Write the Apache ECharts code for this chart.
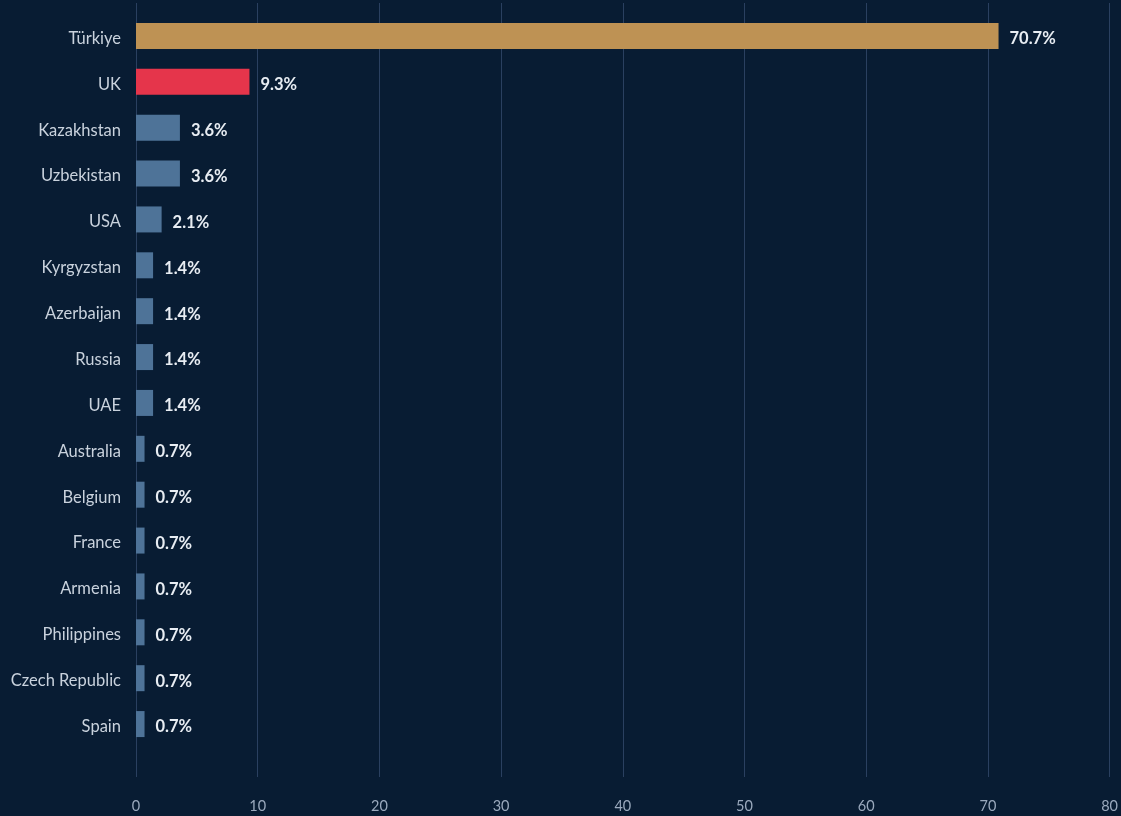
<!DOCTYPE html>
<html><head><meta charset="utf-8">
<script src="https://cdn.jsdelivr.net/npm/echarts@6/dist/echarts.min.js"></script>
<style>html,body{margin:0;padding:0;background:#081c33;}#c{width:1121px;height:816px;}</style>
</head><body><div id="c"></div>
<script>
const categories = ["Türkiye","UK","Kazakhstan","Uzbekistan","USA","Kyrgyzstan","Azerbaijan","Russia","UAE","Australia","Belgium","France","Armenia","Philippines","Czech Republic","Spain"];
const values = [70.7,9.3,3.6,3.6,2.1,1.4,1.4,1.4,1.4,0.7,0.7,0.7,0.7,0.7,0.7,0.7];
const xTicks = [0,10,20,30,40,50,60,70,80];
const barColors = {"Türkiye":"#be9254","UK":"#e5354b"};
const defaultColor = "#4e7398";
const FONT = "Lato, 'Noto Sans', sans-serif";
const chart = echarts.init(document.getElementById('c'), null, {renderer:'canvas'});
chart.setOption({
  backgroundColor:'#081c33',
  animation:false,
  grid:[
    {left:136, right:9, top:13, height:734, containLabel:false},
    {left:136, right:9, top:3, bottom:39, containLabel:false}
  ],
  xAxis:[
    {gridIndex:0, type:'value', min:xTicks[0], max:xTicks[xTicks.length-1], interval:10,
     axisLabel:{show:false}, axisLine:{show:false}, axisTick:{show:false}, splitLine:{show:false}},
    {gridIndex:1, type:'value', min:xTicks[0], max:xTicks[xTicks.length-1], interval:10,
     axisLabel:{show:true, color:'#9aa9bd', fontSize:14.5, fontFamily:FONT, margin:22},
     axisLine:{show:false}, axisTick:{show:false},
     splitLine:{show:true, lineStyle:{color:'#2a4060', width:1}}}
  ],
  yAxis:[
    {gridIndex:0, type:'category', data:categories, inverse:true,
     axisLabel:{fontFamily:FONT, margin:15, formatter:v=>'{a|'+v+'}',
       rich:{a:{color:'#c9d2dd', fontSize:16.5, fontFamily:FONT, padding:[5,0,0,0]}}},
     axisLine:{show:false}, axisTick:{show:false}, splitLine:{show:false}},
    {gridIndex:1, type:'value', show:false}
  ],
  series:[{
    type:'bar', xAxisIndex:0, yAxisIndex:0, barWidth:26,
    data: categories.map((c,i)=>({value:values[i], itemStyle:{color:barColors[c]||defaultColor, borderWidth:0}})),
    label:{show:true, position:'right', distance:11, offset:[0,3], formatter:p=>p.value.toFixed(1)+'%',
      color:'#e8edf3', fontSize:16.5, fontWeight:'bold', fontFamily:FONT}
  }]
});
</script></body></html>
